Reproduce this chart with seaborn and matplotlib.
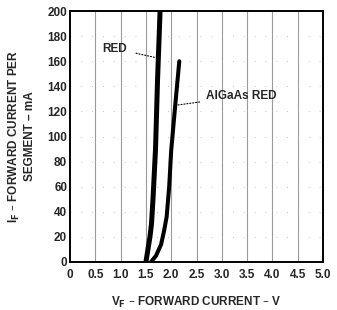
import pandas as pd
import matplotlib.pyplot as plt
import seaborn as sns

sns.set_theme(style="white")
plt.rcParams["font.family"] = ["Liberation Sans", "DejaVu Sans"]

# Curves (V, mA)
red_v = [1.50, 1.54, 1.58, 1.61, 1.64, 1.69, 1.73, 1.78]
red_ma = [0, 10, 20, 30, 50, 90, 145, 200]
algaas_v = [1.60, 1.70, 1.80, 1.86, 1.91, 1.96, 2.00, 2.08, 2.16]
algaas_ma = [0, 5, 14, 25, 36, 60, 89, 125, 160]

x_ticks = [0, 0.5, 1.0, 1.5, 2.0, 2.5, 3.0, 3.5, 4.0, 4.5, 5.0]
x_labels = ["0", "0.5", "1.0", "1.5", "2.0", "2.5", "3.0", "3.5", "4.0", "4.5", "5.0"]
y_ticks = [0, 20, 40, 60, 80, 100, 120, 140, 160, 180, 200]

df = pd.concat([
    pd.DataFrame({"V": red_v, "mA": red_ma, "led": "RED"}),
    pd.DataFrame({"V": algaas_v, "mA": algaas_ma, "led": "AlGaAs RED"}),
])

fig = plt.figure(figsize=(3.37, 3.10), dpi=100)
ax = fig.add_axes([70 / 337, 48 / 310, 253 / 337, 251 / 310])

# scanned-looking grid
for xv in x_ticks[1:-1]:
    ax.axvline(xv, color="#9a9a9a", lw=0.8, zorder=0)
for yv in y_ticks[1:-1]:
    ax.axhline(yv, color="#b0b0b0", lw=0.6, ls=(0, (1, 12)), zorder=0)

sns.lineplot(data=df[df.led == "RED"], x="V", y="mA", sort=False,
             color="black", lw=3.6, ax=ax, legend=False)
sns.lineplot(data=df[df.led == "AlGaAs RED"], x="V", y="mA", sort=False,
             color="black", lw=2.9, ax=ax, legend=False)

fs = 8.5
ax.set_xlim(0, 5)
ax.set_ylim(0, 200)
ax.set_xticks(x_ticks)
ax.set_xticklabels(x_labels)
ax.set_yticks(y_ticks)
ax.tick_params(axis="x", length=0, pad=5, labelsize=fs)
ax.tick_params(axis="y", length=0, pad=2, labelsize=fs)
for lab in ax.get_xticklabels() + ax.get_yticklabels():
    lab.set_fontweight("bold")
for sp in ax.spines.values():
    sp.set_visible(True)
    sp.set_color("black")
    sp.set_linewidth(1.4)

ax.annotate("RED", xy=(1.68, 163), xytext=(0.89, 170), fontsize=fs,
            fontweight="bold", ha="center", va="center",
            arrowprops=dict(arrowstyle="-", ls=":", lw=0.8, color="black",
                            shrinkA=4, shrinkB=0))
ax.annotate("AlGaAs RED", xy=(2.11, 125), xytext=(2.68, 132), fontsize=fs,
            fontweight="bold", ha="left", va="center",
            arrowprops=dict(arrowstyle="-", ls=":", lw=0.8, color="black",
                            shrinkA=2, shrinkB=0))

ax.set_xlabel("V$_\\mathbf{F}$ – FORWARD CURRENT – V", fontsize=fs,
              fontweight="bold", labelpad=10)
ax.set_ylabel("I$_\\mathbf{F}$ – FORWARD CURRENT PER\nSEGMENT – mA", fontsize=fs,
              fontweight="bold", labelpad=8)

fig.savefig("out.png", dpi=100)
